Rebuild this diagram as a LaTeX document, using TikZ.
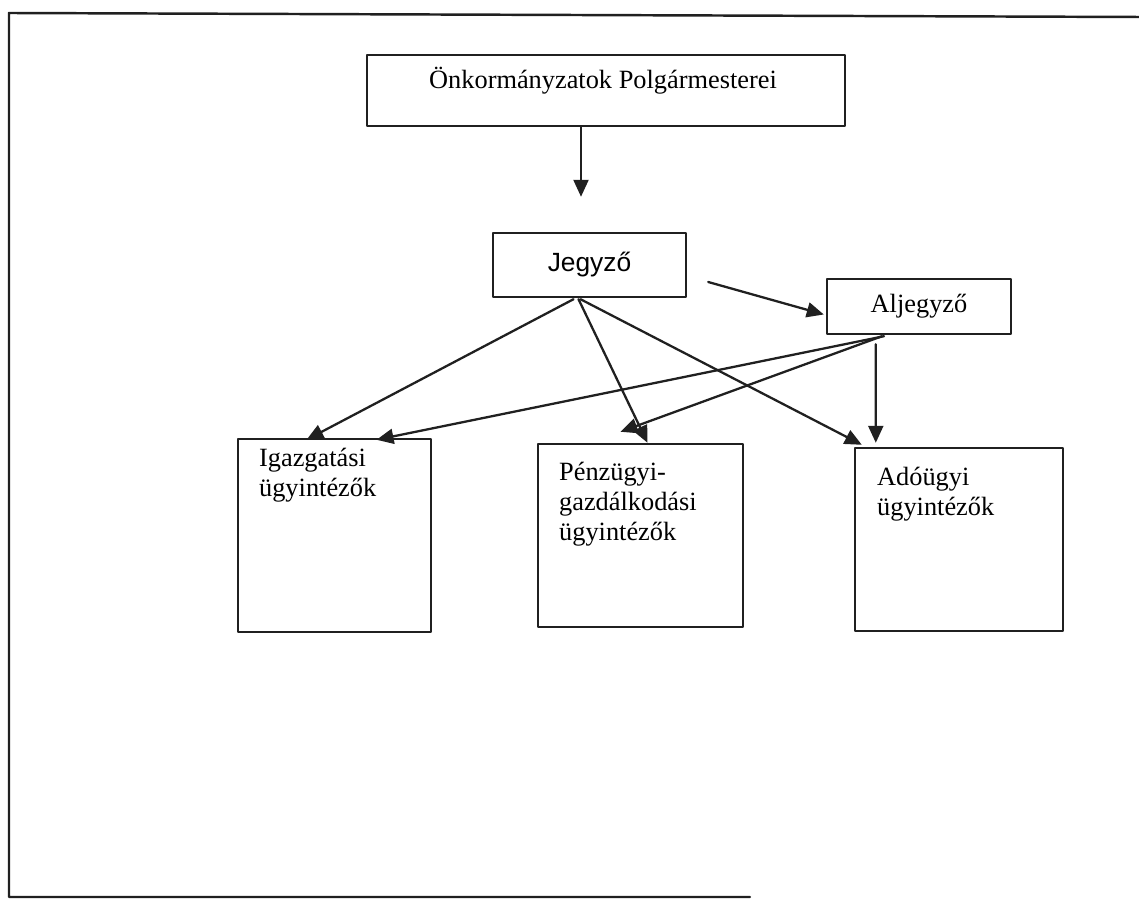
\documentclass[tikz,border=0pt]{standalone}
\usepackage{fontspec}
\setmainfont{Liberation Serif}
\newfontfamily\arialfont{Liberation Sans}
\usetikzlibrary{arrows.meta,calc}
\definecolor{sqsqsq}{rgb}{0.12549019607843137,0.12549019607843137,0.12549019607843137}
\tikzset{
  box/.style={draw=sqsqsq,line width=1.4pt,inner sep=0pt},
  boxtext/.style={anchor=north west,inner sep=0pt,align=left,font=\fontsize{15}{17}\selectfont},
  arr/.style={line width=1.3pt,color=sqsqsq,-{Triangle[length=3.4mm,width=3mm]}}
}
\begin{document}
\begin{tikzpicture}[line cap=round,line join=round,x=0.02cm,y=-0.02cm]
        \useasboundingbox (0,0) rectangle (1139,901);
        \draw [line width=1.4pt,color=sqsqsq] (750,897) -- (9,897) -- (9,13) -- (1139,17);
        \node[box,minimum width=9.56cm,minimum height=1.42cm] (top) at (606,90.5) {};
        \node[box,minimum width=3.86cm,minimum height=1.28cm,font=\arialfont\fontsize{15}{17}\selectfont] (jeg) at (589.5,265) {Jegyző};
        \node[box,minimum width=3.68cm,minimum height=1.10cm,font=\fontsize{15}{17}\selectfont] (alj) at (919,306.5) {Aljegyző};
        \node[box,minimum width=3.86cm,minimum height=3.86cm] (igaz) at (334.5,535.5) {};
        \node[box,minimum width=4.10cm,minimum height=3.66cm] (penz) at (640.5,535.5) {};
        \node[box,minimum width=4.16cm,minimum height=3.66cm] (ado) at (959,539.5) {};
        \node[anchor=base,inner sep=0pt,font=\fontsize{15}{17}\selectfont] (toptext) at ($(top.north)+(-3,35)$) {Önkormányzatok Polgármesterei};
        \node[boxtext] (igaztext) at ($(igaz.north west)+(22,10)$) {Igazgatási\\ügyintézők};
        \node[boxtext] (penztext) at ($(penz.north west)+(22,19)$) {Pénzügyi-\\gazdálkodási\\ügyintézők};
        \node[boxtext] (adotext) at ($(ado.north west)+(23,20)$) {Adóügyi\\ügyintézők};
        \draw [arr] ($(top.south)+(-25,0)$) -- ($(jeg.north)+(-8.5,-35)$);
        \draw [arr] ($(jeg.east)+(21,17)$) -- ($(alj.west)+(-2,8)$);
        \draw [arr] ($(jeg.south)+(-16,1)$) -- ($(igaz.north)+(-28,2)$);
        \draw [arr] ($(jeg.south)+(-11,1)$) -- ($(penz.north)+(7,0)$);
        \draw [arr] ($(jeg.south)+(-9,1)$) -- ($(ado.north west)+(8,-2)$);
        \draw [arr] ($(alj.south)+(-35,1)$) -- ($(igaz.north)+(42,2)$);
        \draw [arr] ($(alj.south)+(-37,1)$) -- ($(penz.north)+(-20,-11)$);
        \draw [arr] ($(alj.south west)+(50,9)$) -- ($(ado.north west)+(22,-4)$);
\end{tikzpicture}
\end{document}
